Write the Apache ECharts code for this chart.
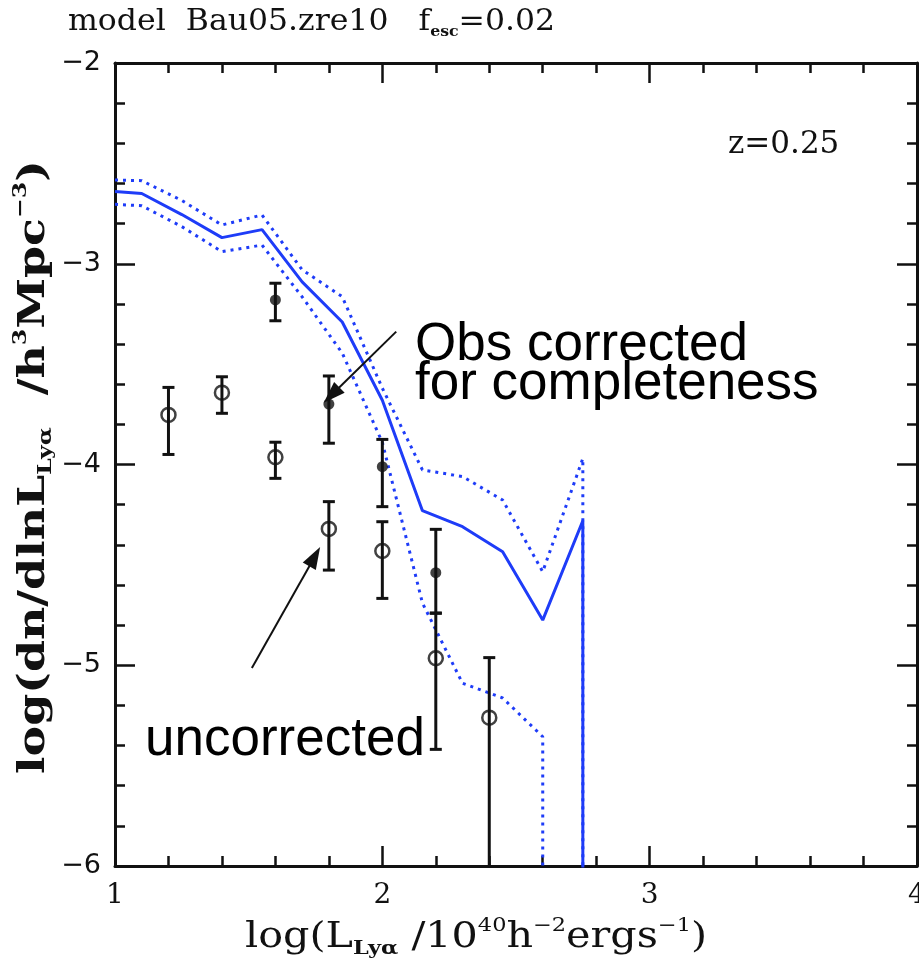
<!DOCTYPE html>
<html>
<head>
<meta charset="utf-8">
<script src="https://cdn.jsdelivr.net/npm/echarts@6/dist/echarts.min.js"></script>
<style>
  html, body { margin: 0; padding: 0; background: #fff; }
  #chart { width: 919px; height: 959px; }
</style>
</head>
<body>
<div id="chart"></div>
<script>
// Model Lyα luminosity function (log dn/dlnL) per bin of log L; null = empty bin
const modelX    = [1.0, 1.1, 1.25, 1.4, 1.55, 1.7, 1.85, 2.0, 2.15, 2.3, 2.45, 2.6, 2.75, 2.9];
const modelMid  = [-2.64, -2.65, -2.755, -2.87, -2.83, -3.09, -3.29, -3.68, -4.23, -4.31, -4.435, -4.775, -4.28, null];
const modelHigh = [-2.583, -2.586, -2.685, -2.807, -2.757, -3.03, -3.164, -3.62, -4.027, -4.06, -4.177, -4.534, -3.97, null];
const modelLow  = [-2.704, -2.711, -2.815, -2.94, -2.907, -3.165, -3.445, -3.89, -4.69, -5.09, -5.163, -5.356, null, null];

// Observed counts, uncorrected (open circles); null lower = unbounded
const rawX  = [1.2, 1.4, 1.6, 1.8, 2.0, 2.2, 2.4];
const rawY  = [-3.753, -3.642, -3.964, -4.321, -4.431, -4.965, -5.261];
const rawHi = [-3.616, -3.563, -3.889, -4.185, -4.285, -4.741, -4.962];
const rawLo = [-3.95, -3.745, -4.069, -4.526, -4.667, -5.419, null];

// Observed counts corrected for completeness (filled circles)
const corrX  = [1.6, 1.8, 2.0, 2.2];
const corrY  = [-3.18, -3.699, -4.011, -4.539];
const corrHi = [-3.097, -3.559, -3.875, -4.323];
const corrLo = [-3.284, -3.894, -4.21, -4.74];

// Axis ranges and tick labels
const X_MIN = 1, X_MAX = 4, Y_MIN = -6, Y_MAX = -2;
const xTicks = [1, 2, 3, 4];
const yTicks = [-6, -5, -4, -3, -2];

// Annotation arrows, in data units: [tail, head]
const arrowCorr = [[2.052, -3.338], [1.81, -3.654]];
const arrowRaw  = [[1.512, -5.014], [1.747, -4.459]];

const INK = '#111';
const BLUE = '#1e3cf8';

// An empty bin after a filled one means the function drops to -infinity: draw it as a vertical fall
function curve(xs, ys) {
  const pts = [];
  for (let i = 0; i < xs.length; i++) {
    if (ys[i] === null) {
      if (pts.length) pts.push([xs[i - 1], Y_MIN - 1]);
      break;
    }
    pts.push([xs[i], ys[i]]);
  }
  return pts;
}

function errorBars(xs, lo, hi) {
  return {
    type: 'custom',
    silent: true,
    z: 3,
    clip: true,
    encode: { x: 0, y: [1, 2] },
    data: xs.map((x, i) => [x, lo[i] === null ? Y_MIN : lo[i], hi[i], lo[i] === null ? 0 : 1]),
    renderItem(params, api) {
      const x = api.value(0);
      const a = api.coord([x, api.value(1)]);
      const b = api.coord([x, api.value(2)]);
      const w = 6;
      const style = { stroke: INK, lineWidth: 3 };
      const kids = [
        { type: 'line', shape: { x1: a[0], y1: a[1], x2: b[0], y2: b[1] }, style },
        { type: 'line', shape: { x1: b[0] - w, y1: b[1], x2: b[0] + w, y2: b[1] }, style }
      ];
      if (api.value(3)) {
        kids.push({ type: 'line', shape: { x1: a[0] - w, y1: a[1], x2: a[0] + w, y2: a[1] }, style });
      }
      return { type: 'group', children: kids };
    }
  };
}

function arrow(pair) {
  return [{ coord: pair[0], symbol: 'none' }, { coord: pair[1], symbol: 'triangle' }];
}

const frameAxis = {
  type: 'value',
  interval: 1,
  axisLine: { show: true, onZero: false, lineStyle: { color: INK, width: 3 } },
  axisTick: { show: true, inside: true, length: 20, lineStyle: { color: INK, width: 2.5 } },
  minorTick: { show: true, splitNumber: 5, length: 10, lineStyle: { color: INK, width: 2.5 } },
  splitLine: { show: false },
  minorSplitLine: { show: false }
};

const serif = "'DejaVu Serif', serif";

const chart = echarts.init(document.getElementById('chart'), null, { renderer: 'canvas' });

chart.setOption({
  animation: false,
  backgroundColor: '#fff',
  grid: { left: 115, right: 2, top: 63, bottom: 93, containLabel: false, outerBoundsMode: 'none' },
  xAxis: [
    Object.assign({}, frameAxis, {
      min: X_MIN, max: X_MAX, position: 'bottom',
      axisLabel: {
        margin: 16, color: INK, fontFamily: serif, fontSize: 28,
        customValues: xTicks, formatter: v => String(v)
      }
    }),
    Object.assign({}, frameAxis, {
      min: X_MIN, max: X_MAX, position: 'top', axisLabel: { show: false }
    })
  ],
  yAxis: [
    Object.assign({}, frameAxis, {
      min: Y_MIN, max: Y_MAX, position: 'left',
      axisLabel: {
        margin: 14, color: INK, fontFamily: "'DejaVu Sans', sans-serif", fontSize: 27,
        customValues: yTicks, formatter: v => String(v).replace('-', '\u2212')
      }
    }),
    Object.assign({}, frameAxis, {
      min: Y_MIN, max: Y_MAX, position: 'right', axisLabel: { show: false }
    })
  ],
  series: [
    {
      type: 'line', name: 'model', data: curve(modelX, modelMid),
      symbol: 'none', silent: true, z: 2,
      lineStyle: { color: BLUE, width: 3 }
    },
    {
      type: 'line', name: 'model upper', data: curve(modelX, modelHigh),
      symbol: 'none', silent: true, z: 2,
      lineStyle: { color: BLUE, width: 3, type: [3, 5] }
    },
    {
      type: 'line', name: 'model lower', data: curve(modelX, modelLow),
      symbol: 'none', silent: true, z: 2,
      lineStyle: { color: BLUE, width: 3, type: [3, 5] }
    },
    errorBars(rawX, rawLo, rawHi),
    errorBars(corrX, corrLo, corrHi),
    {
      type: 'scatter', name: 'uncorrected', silent: true, z: 4,
      data: rawX.map((x, i) => [x, rawY[i]]),
      symbol: 'circle', symbolSize: 14,
      itemStyle: { color: 'rgba(0,0,0,0)', borderColor: INK, borderWidth: 2.5 }
    },
    {
      type: 'scatter', name: 'corrected', silent: true, z: 4,
      data: corrX.map((x, i) => [x, corrY[i]]),
      symbol: 'circle', symbolSize: 11,
      itemStyle: { color: INK },
      markLine: {
        silent: true, animation: false,
        symbolSize: [15, 22],
        label: { show: false },
        lineStyle: { color: INK, width: 2, type: 'solid' },
        emphasis: { disabled: true },
        data: [arrow(arrowCorr), arrow(arrowRaw)]
      }
    }
  ],
  graphic: [
    {
      type: 'text', x: 68, y: 22, scaleX: 1.05,
      style: {
        text: '{a|model  Bau05.zre10   f}{s|esc}{a|=0.02}',
        verticalAlign: 'middle', fill: INK,
        rich: {
          a: { fontFamily: serif, fontSize: 30, lineHeight: 36, fill: INK },
          s: { fontFamily: serif, fontSize: 15, fontWeight: 'bold', lineHeight: 16, verticalAlign: 'bottom', fill: INK }
        }
      }
    },
    {
      type: 'text', x: 728, y: 145,
      style: { text: 'z=0.25', font: "31px 'DejaVu Serif', serif", fill: INK, verticalAlign: 'middle' }
    },
    {
      type: 'text', x: 34, y: 467, rotation: Math.PI / 2, scaleX: 1.24,
      style: {
        text: '{a|log(dn/dlnL}{s|Lyα}{a|  /h}{p|3}{a|Mpc}{p|\u22123}{a|)}',
        align: 'center', verticalAlign: 'middle', fill: INK,
        rich: {
          a: { fontFamily: serif, fontSize: 37, lineHeight: 44, fontWeight: 'bold', fill: INK },
          s: { fontFamily: serif, fontSize: 19, lineHeight: 20, fontWeight: 'bold', verticalAlign: 'bottom', fill: INK },
          p: { fontFamily: serif, fontSize: 19, lineHeight: 26, fontWeight: 'bold', verticalAlign: 'top', fill: INK }
        }
      }
    },
    {
      type: 'text', x: 476, y: 938, scaleX: 1.18,
      style: {
        text: '{a|log(L}{s|Lyα}{a| /10}{p|40}{a|h}{p|\u22122}{a|ergs}{p|\u22121}{a|)}',
        align: 'center', verticalAlign: 'middle', fill: INK,
        rich: {
          a: { fontFamily: serif, fontSize: 35, lineHeight: 42, fill: INK },
          s: { fontFamily: serif, fontSize: 19, lineHeight: 20, fontWeight: 'bold', verticalAlign: 'bottom', fill: INK },
          p: { fontFamily: serif, fontSize: 19, lineHeight: 26, verticalAlign: 'top', fill: INK }
        }
      }
    },
    {
      type: 'text', x: 415, y: 319,
      style: { text: 'Obs corrected', font: "53px 'Liberation Sans', Arial, sans-serif", fill: '#000', verticalAlign: 'alphabetic' }
    },
    {
      type: 'text', x: 415, y: 358,
      style: { text: 'for completeness', font: "53px 'Liberation Sans', Arial, sans-serif", fill: '#000', verticalAlign: 'alphabetic' }
    },
    {
      type: 'text', x: 145, y: 714,
      style: { text: 'uncorrected', font: "53px 'Liberation Sans', Arial, sans-serif", fill: '#000', verticalAlign: 'alphabetic' }
    }
  ]
});
</script>
</body>
</html>
